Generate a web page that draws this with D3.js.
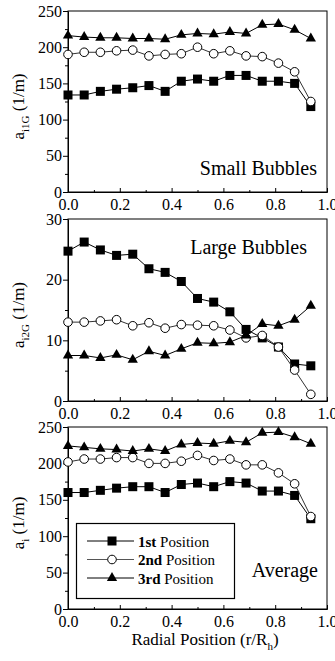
<!DOCTYPE html>
<html>
<head>
<meta charset="utf-8">
<script src="https://cdn.jsdelivr.net/npm/d3@7"></script>
<style>
	body { margin: 0; background: #fff; }
	svg text { font-family: "Liberation Serif", "DejaVu Serif", serif; fill: #000; }
</style>
</head>
<body>
<div id="chart"></div>
<script>
const radialPos = [0, 0.0625, 0.125, 0.1875, 0.25, 0.3125, 0.375, 0.4375, 0.5, 0.5625, 0.625, 0.6875, 0.75, 0.8125, 0.875, 0.9375];

const small1st = [134, 134, 139, 142, 144, 147, 139, 153, 156, 153, 161, 161, 153, 153, 150, 118];
const small2nd = [190, 193, 193, 195, 196, 188, 190, 191, 200, 191, 195, 188, 187, 178, 166, 125];
const small3rd = [216, 214, 213, 213, 212, 212, 211, 217, 219, 218, 221, 219, 231, 232, 224, 212];

const large1st = [24.7, 26.2, 24.9, 24.0, 24.2, 21.8, 21.2, 19.7, 16.9, 16.3, 14.7, 11.8, 10.4, 8.9, 6.1, 5.8];
const large2nd = [13.0, 13.0, 13.2, 13.4, 12.4, 12.9, 12.0, 12.6, 12.5, 12.4, 11.7, 10.4, 10.8, 8.9, 5.1, 1.1];
const large3rd = [7.5, 7.5, 7.1, 7.6, 6.8, 8.2, 7.5, 8.6, 9.6, 9.5, 9.7, 10.8, 12.7, 12.4, 13.4, 15.7];

const avg1st = [160, 160, 163, 166, 168, 168, 160, 171, 173, 168, 175, 173, 162, 162, 156, 124];
const avg2nd = [202, 206, 206, 208, 208, 200, 200, 203, 211, 204, 206, 198, 198, 187, 172, 127];
const avg3rd = [224, 222, 220, 219, 217, 220, 217, 226, 228, 227, 231, 229, 242, 243, 236, 227];

const xTicks = [0, 0.2, 0.4, 0.6, 0.8, 1.0];
const xMinorTicks = [0.1, 0.3, 0.5, 0.7, 0.9];
const seriesNames = ['1st', '2nd', '3rd'];
const seriesSymbols = ['square', 'circle', 'triangle'];

const panels = [
	{ label: 'Small Bubbles', sub: 'i1G', max: 250, step: 50, series: [small1st, small2nd, small3rd], top: 11, bottom: 192 },
	{ label: 'Large Bubbles', sub: 'i2G', max: 30, step: 10, series: [large1st, large2nd, large3rd], top: 219, bottom: 401 },
	{ label: 'Average', sub: 'i', max: 250, step: 50, series: [avg1st, avg2nd, avg3rd], top: 427, bottom: 609 },
];

const serif = '"Liberation Serif", "DejaVu Serif", serif';
const width = 335;
const height = 661;
const left = 68;
const right = 327;

const svg = d3.select('#chart').append('svg')
		.attr('width', width)
		.attr('height', height)
		.attr('font-family', serif);

svg.append('rect')
		.attr('width', width)
		.attr('height', height)
		.attr('fill', '#fff');

const xScale = d3.scaleLinear()
		.domain([0, 1])
		.range([left, right]);

function drawMarker(sel, kind) {
	if (kind === 'circle') {
		sel.append('circle')
				.attr('r', 4.3)
				.attr('fill', '#fff')
				.attr('stroke', '#000')
				.attr('stroke-width', 1);
	} else if (kind === 'square') {
		sel.append('rect')
				.attr('x', -4.5)
				.attr('y', -4.5)
				.attr('width', 9)
				.attr('height', 9)
				.attr('fill', '#000');
	} else {
		sel.append('path')
				.attr('d', d3.symbol(d3.symbolTriangle, 46)())
				.attr('fill', '#000');
	}
}

panels.forEach((p, pi) => {
	const yScale = d3.scaleLinear()
			.domain([0, p.max])
			.range([p.bottom, p.top]);
	const g = svg.append('g');

	// frame
	g.append('rect')
			.attr('x', left)
			.attr('y', p.top)
			.attr('width', right - left)
			.attr('height', p.bottom - p.top)
			.attr('fill', 'none')
			.attr('stroke', '#000')
			.attr('stroke-width', 1);

	// x axis, major + minor ticks pointing in
	g.append('g')
			.attr('transform', `translate(0, ${p.bottom})`)
			.call(d3.axisBottom(xScale).tickValues(xTicks).tickFormat(d3.format('.1f')).tickSize(-4).tickPadding(7));
	g.append('g')
			.attr('transform', `translate(0, ${p.bottom})`)
			.call(d3.axisBottom(xScale).tickValues(xMinorTicks).tickFormat('').tickSize(-2).tickSizeOuter(0))
			.select('.domain').remove();

	// y axis, ticks pointing out
	g.append('g')
			.attr('transform', `translate(${left}, 0)`)
			.call(d3.axisLeft(yScale).tickValues(d3.range(0, p.max + 0.001, p.step)).tickSize(5).tickPadding(1).tickSizeOuter(0));
	g.append('g')
			.attr('transform', `translate(${left}, 0)`)
			.call(d3.axisLeft(yScale).tickValues(d3.range(p.step / 2, p.max, p.step)).tickFormat('').tickSize(3).tickSizeOuter(0))
			.select('.domain').remove();

	g.selectAll('.tick text')
			.attr('font-size', 16);
	g.selectAll('g').attr('font-family', serif);

	// y title
	const yMid = (p.top + p.bottom) / 2 + 5;
	const yTitle = g.append('text')
			.attr('transform', `translate(24, ${yMid}) rotate(-90)`)
			.attr('text-anchor', 'middle')
			.attr('font-size', 17);
	yTitle.append('tspan').text('a');
	yTitle.append('tspan').attr('dy', 5).attr('font-size', 11).text(p.sub);
	yTitle.append('tspan').attr('dy', -5).text(' (1/m)');

	// series
	const line = d3.line()
			.x((d, i) => xScale(radialPos[i]))
			.y((d) => yScale(d));
	p.series.forEach((values, si) => {
		g.append('path')
				.datum(values)
				.attr('d', line)
				.attr('fill', 'none')
				.attr('stroke', si === 1 ? '#333' : '#000')
				.attr('stroke-width', 1);
		const pts = g.selectAll(`.pt-${si}`)
				.data(values)
			.enter().append('g')
				.attr('class', `pt-${si}`)
				.attr('transform', (d, i) => `translate(${xScale(radialPos[i])}, ${yScale(d)})`);
		drawMarker(pts, seriesSymbols[si]);
	});

	// panel label
	const labelPos = [[317, 175], [307, 254], [318, 577]][pi];
	g.append('text')
			.attr('x', labelPos[0])
			.attr('y', labelPos[1])
			.attr('text-anchor', 'end')
			.attr('font-size', 20)
			.text(p.label);
});

// x title
const xTitle = svg.append('text')
		.attr('x', 205)
		.attr('y', 645)
		.attr('text-anchor', 'middle')
		.attr('font-size', 17);
xTitle.append('tspan').text('Radial Position (r/R');
xTitle.append('tspan').attr('dy', 5).attr('font-size', 11).text('h');
xTitle.append('tspan').attr('dy', -5).text(')');

// legend
const legend = svg.append('g');
legend.append('rect')
		.attr('x', 76.5)
		.attr('y', 523.5)
		.attr('width', 158)
		.attr('height', 75)
		.attr('fill', '#fff')
		.attr('stroke', '#000')
		.attr('stroke-width', 1.2);
seriesNames.forEach((name, i) => {
	const row = legend.append('g')
			.attr('transform', `translate(0, ${541 + i * 18.5})`);
	row.append('line')
			.attr('x1', 87)
			.attr('x2', 134)
			.attr('stroke', i === 1 ? '#555' : '#000')
			.attr('stroke-width', 1);
	const m = row.append('g').attr('transform', 'translate(112, 0)');
	drawMarker(m, seriesSymbols[i]);
	const t = row.append('text')
			.attr('x', 138)
			.attr('y', 5.5)
			.attr('font-size', 15);
	t.append('tspan').attr('font-weight', 'bold').text(name);
	t.append('tspan').text(' Position');
});
</script>
</body>
</html>
